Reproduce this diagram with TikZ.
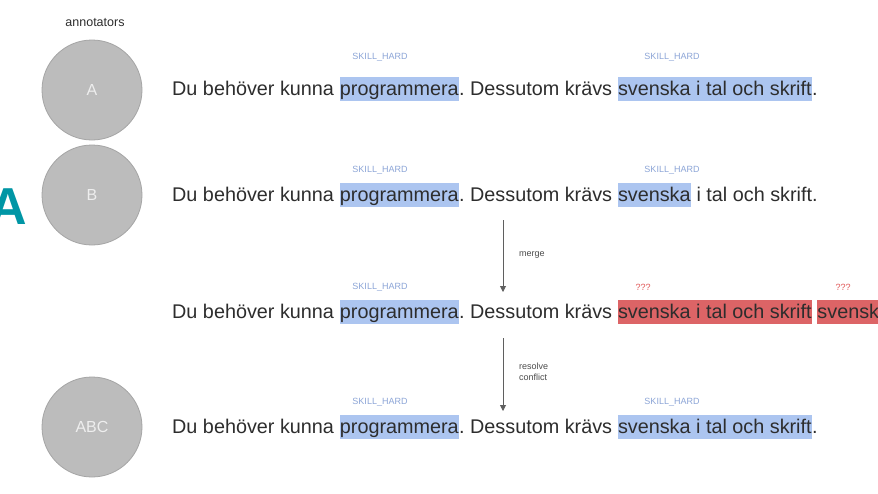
\documentclass[tikz,border=0pt]{standalone}
\usepackage{fontspec}
\setmainfont{Liberation Sans}
\usetikzlibrary{arrows.meta}
\definecolor{txt}{RGB}{45,45,45}
\definecolor{hlb}{RGB}{172,197,240}
\definecolor{hlr}{RGB}{220,100,102}
\definecolor{lblb}{RGB}{140,165,215}
\definecolor{lblr}{RGB}{225,90,90}
\definecolor{circfill}{RGB}{188,188,188}
\definecolor{circline}{RGB}{165,165,165}
\definecolor{circtxt}{RGB}{238,238,238}
\definecolor{arrgray}{RGB}{95,95,95}
\definecolor{teal}{RGB}{0,150,165}
\newcommand\wsp{\kern0.278em}
\begin{document}
\begin{tikzpicture}[x=1pt,y=-1pt,
  plain/.style={inner sep=0pt, anchor=base west, text=txt, font=\fontsize{19.8}{22}\selectfont},
  hlbox/.style={plain, inner ysep=1pt, text height=17pt, text depth=4.5pt},
  hlblue/.style={hlbox, fill=hlb},
  hlred/.style={hlbox, fill=hlr},
  tag/.style={inner sep=0pt, text=lblb, font=\fontsize{9}{10}\selectfont},
  qtag/.style={inner sep=0pt, text=lblr, font=\fontsize{9}{10}\selectfont},
  person/.style={circle, minimum size=100pt, inner sep=0pt, fill=circfill, draw=circline, line width=0.8pt, text=circtxt, font=\fontsize{16}{18}\selectfont},
  note/.style={inner sep=0pt, anchor=west, text=txt!85, font=\fontsize{9}{11}\selectfont, align=left},
  arr/.style={draw=arrgray, line width=0.9pt, -{Triangle[length=6pt,width=6pt]}}
]
\clip (0,0) rectangle (878,493);
\fill[white] (0,0) rectangle (878,493);

% annotators
\node[inner sep=0pt, text=txt, font=\fontsize{12.5}{14}\selectfont] (ann) at (95,23) {annotators};
\node[person] (pa) at (92,90) {A};
\node[person] (pb) at (92,195) {B};
\node[person] (pabc) at (92,427) {ABC};

% big panel letter
\node[inner sep=0pt, anchor=base east, text=teal, font=\fontsize{52}{56}\selectfont\bfseries] (panel) at (27,224) {A};

% line 1
\node[plain] (l1a) at (172,95) {Du behöver kunna\wsp};
\node[hlblue] (l1b) at (l1a.base east) {programmera};
\node[plain] (l1c) at (l1b.base east) {.\wsp Dessutom krävs\wsp};
\node[hlblue] (l1d) at (l1c.base east) {svenska i tal och skrift};
\node[plain] (l1e) at (l1d.base east) {.};
\node[tag] (t1a) at (380,57) {SKILL\_HARD};
\node[tag] (t1b) at (672,57) {SKILL\_HARD};

% line 2
\node[plain] (l2a) at (172,201) {Du behöver kunna\wsp};
\node[hlblue] (l2b) at (l2a.base east) {programmera};
\node[plain] (l2c) at (l2b.base east) {.\wsp Dessutom krävs\wsp};
\node[hlblue] (l2d) at (l2c.base east) {svenska};
\node[plain] (l2e) at (l2d.base east) {\wsp i tal och skrift.};
\node[tag] (t2a) at (380,170) {SKILL\_HARD};
\node[tag] (t2b) at (672,170) {SKILL\_HARD};

% line 3 (merged)
\node[plain] (l3a) at (172,318) {Du behöver kunna\wsp};
\node[hlblue] (l3b) at (l3a.base east) {programmera};
\node[plain] (l3c) at (l3b.base east) {.\wsp Dessutom krävs\wsp};
\node[hlred] (l3d) at (l3c.base east) {svenska i tal och skrift};
\node[plain] (l3e) at (l3d.base east) {\kern5pt};
\node[hlred] (l3f) at (l3e.base east) {svenska};
\node[tag] (t3a) at (380,287) {SKILL\_HARD};
\node[qtag] (q3a) at (643,287) {???};
\node[qtag] (q3b) at (843,287) {???};

% line 4 (resolved)
\node[plain] (l4a) at (172,433) {Du behöver kunna\wsp};
\node[hlblue] (l4b) at (l4a.base east) {programmera};
\node[plain] (l4c) at (l4b.base east) {.\wsp Dessutom krävs\wsp};
\node[hlblue] (l4d) at (l4c.base east) {svenska i tal och skrift};
\node[plain] (l4e) at (l4d.base east) {.};
\node[tag] (t4a) at (380,402) {SKILL\_HARD};
\node[tag] (t4b) at (672,402) {SKILL\_HARD};

% arrows
\coordinate (m1) at (503,220);
\coordinate (m2) at (503,292);
\coordinate (r1) at (503,338);
\coordinate (r2) at (503,411);
\draw[arr] (m1) -- (m2);
\draw[arr] (r1) -- (r2);
\node[note] (mlab) at (519,255) {merge};
\node[note] (rlab) at (519,372) {resolve\\conflict};
\end{tikzpicture}
\end{document}
